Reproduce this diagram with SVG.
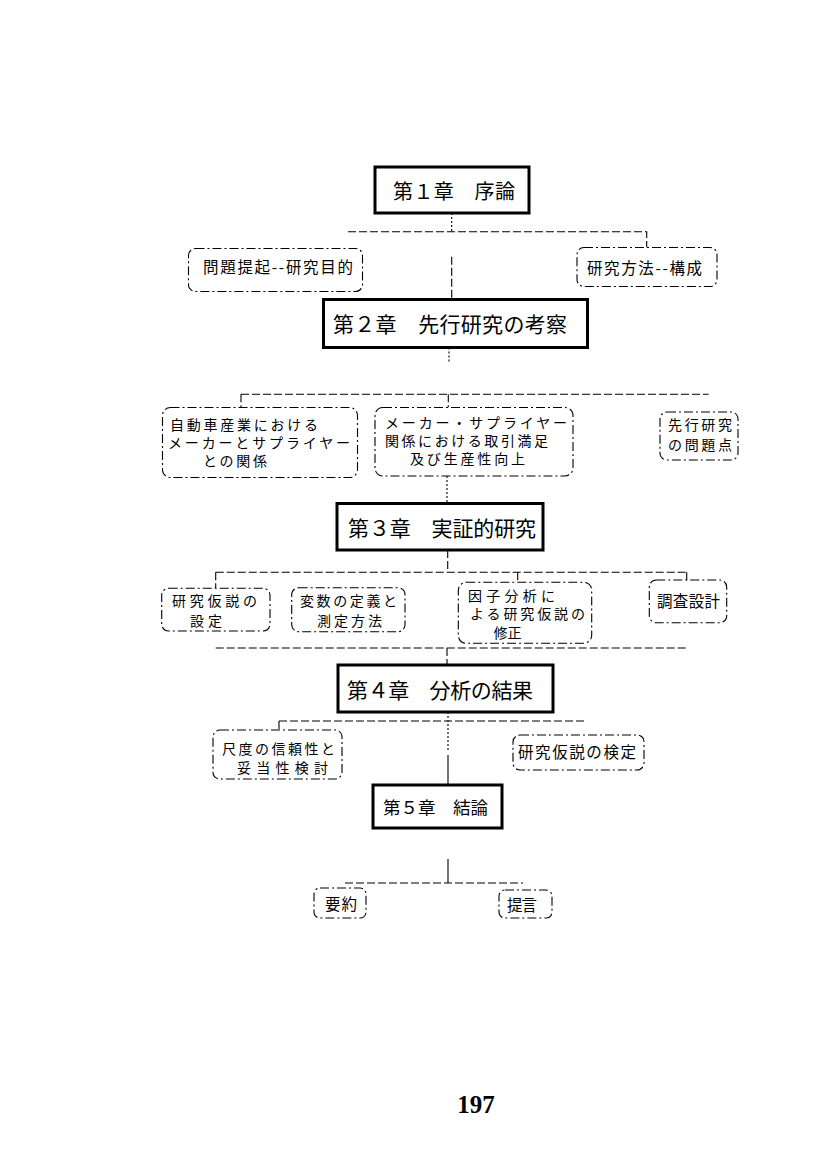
<svg xmlns="http://www.w3.org/2000/svg" width="827" height="1170" viewBox="0 0 827 1170">
<style>
.chap{fill:#fff;stroke:#000;stroke-width:3}
.sub{fill:#fff;stroke:#000;stroke-width:1.1;stroke-dasharray:9 3 2 3}
.conn{fill:none;stroke:#000;stroke-width:1.1;stroke-dasharray:8 3}
.dot{stroke-dasharray:2 2}
.solid{stroke-dasharray:none}
text{font-family:"Noto Sans CJK JP","Noto Sans CJK SC",sans-serif;dominant-baseline:central;fill:#000}
.t{font-size:21px}
.t20{font-size:20px}
.t17{font-size:17.5px}
.s{font-size:15.5px}
.m{font-size:14px}
.pg{font-family:"Liberation Serif",serif;font-weight:bold;font-size:25px;dominant-baseline:auto;text-anchor:middle}
</style>
<rect width="827" height="1170" fill="#fff"/>
<g id="connectors">
<path class="conn dot" d="M451.7 213 V231.7"/>
<path class="conn" d="M348 231.7 H646.7 V247.5"/>
<path class="conn" d="M451.7 256.7 V299.5"/>
<path class="conn dot" d="M449 347.5 V362"/>
<path class="conn" d="M241 394.3 H708.6 M241 394.3 V407.5 M448.3 394.3 V407.5"/>
<path class="conn dot" d="M447 476 V503.5"/>
<path class="conn" d="M447.7 550 V572.3 M215.7 572.3 H686.7 M215.7 572.3 V588.3 M517.7 572.3 V582.3 M686.7 572.3 V580"/>
<path class="conn" d="M215.7 648 H686.7 M447 648 V665"/>
<path class="conn" d="M279 721 H585 M279 721 V730"/>
<path class="conn dot" d="M448 712 V752"/>
<path class="conn solid" d="M448 755 V785"/>
<path class="conn solid" d="M448 859 V883"/>
<path class="conn" d="M345 883 H523"/>
</g>
<g id="ch1">
<rect class="chap" x="375" y="167" width="154" height="46"/>
<text class="t20" x="393" y="190" textLength="122">第１章　序論</text>
</g>
<g id="n-mondai">
<rect class="sub" x="188.5" y="248.5" width="174" height="43" rx="7"/>
<text class="s" x="203" y="266" textLength="150">問題提起--研究目的</text>
</g>
<g id="n-houhou">
<rect class="sub" x="577" y="247.5" width="140" height="39" rx="7"/>
<text class="s" x="587" y="267" textLength="115">研究方法--構成</text>
</g>
<g id="ch2">
<rect class="chap" x="323.5" y="299.5" width="264" height="48"/>
<text class="t" x="333" y="323" textLength="234">第２章　先行研究の考察</text>
</g>
<g id="n-jidousha">
<rect class="sub" x="162.5" y="407.5" width="195" height="70" rx="8"/>
<text class="m" x="170" y="423.5" textLength="148">自動車産業における</text>
<text class="m" x="168" y="441.5" textLength="182">メーカーとサプライヤー</text>
<text class="m" x="203" y="459.5" textLength="64">との関係</text>
</g>
<g id="n-torihiki">
<rect class="sub" x="375" y="407.5" width="198" height="68.5" rx="8"/>
<text class="m" x="385" y="422" textLength="182">メーカー・サプライヤー</text>
<text class="m" x="385" y="440" textLength="163">関係における取引満足</text>
<text class="m" x="410" y="458" textLength="115">及び生産性向上</text>
</g>
<g id="n-mondaiten">
<rect class="sub" x="660" y="412" width="78" height="48" rx="7"/>
<text class="m" x="668" y="424" textLength="64">先行研究</text>
<text class="m" x="668" y="443.5" textLength="64">の問題点</text>
</g>
<g id="ch3">
<rect class="chap" x="337" y="503.5" width="206" height="46.5"/>
<text class="t" x="348" y="527" textLength="188">第３章　実証的研究</text>
</g>
<g id="n-kasetsu">
<rect class="sub" x="161.7" y="588.3" width="108.3" height="42.7" rx="7"/>
<text class="m" x="172" y="599.5" textLength="85">研究仮説の</text>
<text class="m" x="190" y="619.5" textLength="32">設定</text>
</g>
<g id="n-hensu">
<rect class="sub" x="291.7" y="587.7" width="113.3" height="44" rx="7"/>
<text class="m" x="300" y="599.5" textLength="97">変数の定義と</text>
<text class="m" x="317" y="619.5" textLength="65">測定方法</text>
</g>
<g id="n-inshi">
<rect class="sub" x="458.3" y="582.3" width="133.4" height="61" rx="8"/>
<text class="m" x="468" y="594.5" textLength="87">因子分析に</text>
<text class="m" x="470" y="613" textLength="115">よる研究仮説の</text>
<text class="m" x="493.5" y="631.5" textLength="28">修正</text>
</g>
<g id="n-chousa">
<rect class="sub" x="649.3" y="580" width="77.4" height="42.7" rx="7"/>
<text class="s" x="657" y="600" textLength="63">調査設計</text>
</g>
<g id="ch4">
<rect class="chap" x="338" y="665" width="215" height="47"/>
<text class="t" x="347" y="689" textLength="186">第４章　分析の結果</text>
</g>
<g id="n-shakudo">
<rect class="sub" x="213" y="730" width="129" height="49" rx="7"/>
<text class="m" x="222" y="747.5" textLength="113">尺度の信頼性と</text>
<text class="m" x="237" y="767" textLength="91">妥当性検討</text>
</g>
<g id="n-kentei">
<rect class="sub" x="513" y="735" width="131" height="35" rx="7"/>
<text class="s" x="518" y="751" textLength="118">研究仮説の検定</text>
</g>
<g id="ch5">
<rect class="chap" x="373" y="785" width="129" height="43"/>
<text class="t17" x="383" y="806" textLength="105">第５章　結論</text>
</g>
<g id="n-youyaku">
<rect class="sub" x="314" y="888" width="52" height="30" rx="6"/>
<text class="s" x="325" y="903" textLength="32">要約</text>
</g>
<g id="n-teigen">
<rect class="sub" x="499" y="890" width="53" height="28" rx="6"/>
<text class="s" x="507" y="904" textLength="30">提言</text>
</g>
<text class="pg" x="476" y="1113">197</text>
</svg>
